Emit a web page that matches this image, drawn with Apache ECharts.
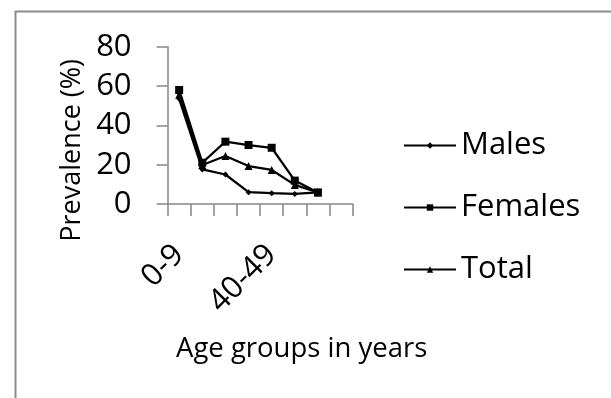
<!DOCTYPE html>
<html>
<head>
<meta charset="utf-8">
<script src="https://cdn.jsdelivr.net/npm/echarts@6/dist/echarts.min.js"></script>
<style>
html,body{margin:0;padding:0;background:#fff;}
#chart{width:611px;height:398px;}
</style>
</head>
<body>
<div id="chart"></div>
<script>
var categories = ['0-9','10-19','20-29','30-39','40-49','50-59','60-69','70+'];
var males   = [53.5, 17.6, 15.0, 6.0, 5.5, 5.1, 5.9, null];
var females = [58.0, 21.0, 31.7, 30.0, 28.6, 11.9, 5.9, null];
var total   = [55.5, 19.8, 24.4, 19.3, 17.3, 9.7, 5.9, null];
var yTicks = {min: 0, max: 80, interval: 20};
var seriesNames = ['Males','Females','Total'];

var FONT = 'Open Sans';
var chart = echarts.init(document.getElementById('chart'), null, {renderer: 'canvas'});
function mk(name, data, symbol, size) {
  return {
    name: name, type: 'line', data: data,
    symbol: symbol, symbolSize: size, showAllSymbol: true,
    lineStyle: {color: '#000', width: 2.25},
    itemStyle: {color: '#000'},
    emphasis: {disabled: true},
    animation: false
  };
}
chart.setOption({
  animation: false,
  graphic: [{
    type: 'rect', left: 13, top: 9,
    shape: {width: 700, height: 500},
    style: {fill: 'none', stroke: '#8c8c8c', lineWidth: 2}
  }],
  title: {
    text: 'Age groups in years',
    left: 171, top: 330,
    textStyle: {fontFamily: FONT, fontSize: 27.5, fontWeight: 'normal', color: '#000'}
  },
  grid: {left: 167.6, top: 46.7, width: 185, height: 157.3, containLabel: false},
  legend: {
    orient: 'vertical', left: 398, top: 125,
    itemWidth: 52, itemHeight: 8, itemGap: 31,
    data: seriesNames,
    textStyle: {fontFamily: FONT, fontSize: 31, lineHeight: 31, color: '#000'}
  },
  xAxis: {
    type: 'category', data: categories, boundaryGap: true,
    axisLine: {lineStyle: {color: '#868686', width: 1.5}},
    axisTick: {show: true, interval: 0, length: 12, lineStyle: {color: '#868686', width: 1.5}},
    axisLabel: {interval: 3, rotate: 45, margin: 46, fontFamily: FONT, fontSize: 31, color: '#000'},
    splitLine: {show: false}
  },
  yAxis: {
    type: 'value', min: yTicks.min, max: yTicks.max, interval: yTicks.interval,
    name: 'Prevalence (%)', nameLocation: 'middle', nameGap: 82, nameRotate: 90,
    nameTextStyle: {fontFamily: FONT, fontSize: 27, color: '#000', padding: [0, 50, 0, 0]},
    axisLine: {show: true, lineStyle: {color: '#868686', width: 1.5}},
    axisTick: {show: true, length: 11, lineStyle: {color: '#868686', width: 1.5}},
    axisLabel: {margin: 36, fontFamily: FONT, fontSize: 31, color: '#000'},
    splitLine: {show: false}
  },
  series: [
    mk('Males', males, 'diamond', 6),
    mk('Females', females, 'rect', 8),
    mk('Total', total, 'triangle', 8)
  ]
});
</script>
</body>
</html>
